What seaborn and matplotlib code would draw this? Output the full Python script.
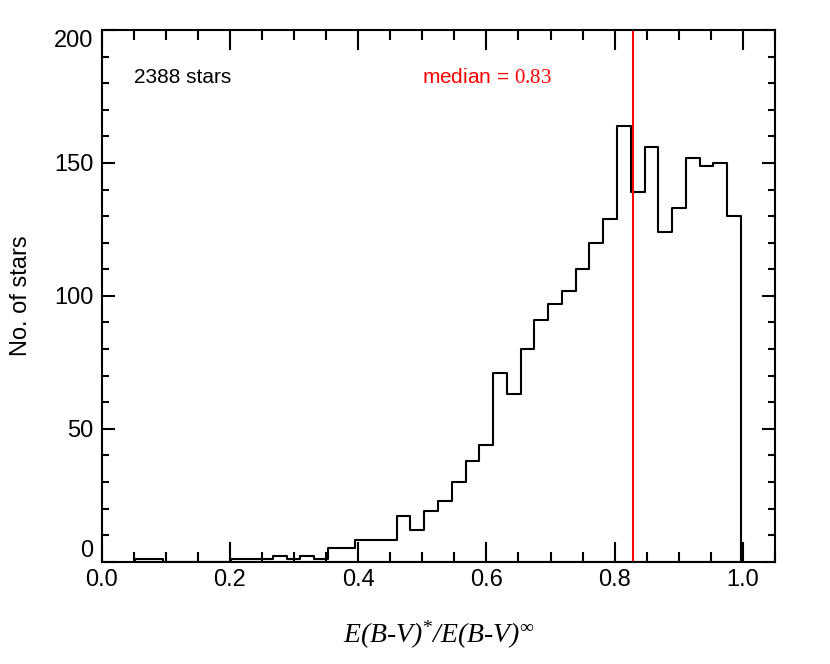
import matplotlib
matplotlib.use('Agg')
import matplotlib.pyplot as plt
import numpy as np
import pandas as pd
import seaborn as sns
from matplotlib.ticker import MultipleLocator, FormatStrFormatter

# histogram: 44 equal bins between the min and max ratio
hist_lo = 0.052
hist_hi = 0.997
counts = [1, 1, 0, 0, 0, 0, 0, 1, 1, 1,
          2, 1, 2, 1, 5, 5, 8, 8, 8, 17,
          12, 19, 23, 30, 38, 44, 71, 63, 80, 91,
          97, 102, 110, 120, 129, 164, 139, 156, 124, 133,
          152, 149, 150, 130]
n_stars = 2388
median_ratio = 0.828

edges = np.linspace(hist_lo, hist_hi, len(counts) + 1)
df = pd.DataFrame({'ratio': 0.5 * (edges[:-1] + edges[1:]), 'n': counts})

sns.set_style('ticks')
plt.rcParams['font.family'] = ['Liberation Sans', 'DejaVu Sans']
plt.rcParams['mathtext.fontset'] = 'custom'
plt.rcParams['mathtext.rm'] = 'Liberation Serif'
plt.rcParams['mathtext.it'] = 'Liberation Serif:italic'
for k in ['text.color', 'axes.labelcolor', 'xtick.color', 'ytick.color', 'axes.edgecolor']:
    plt.rcParams[k] = 'black'

fig = plt.figure(figsize=(8.3, 6.64), dpi=100)
ax = fig.add_axes([0.1225, 0.1541, 0.8112, 0.8007])

# filled step outline so the end edges drop down to zero, then drop the fill
sns.histplot(data=df, x='ratio', weights='n', bins=list(edges), element='step', fill=True,
             color='black', ax=ax)
for coll in ax.collections:
    coll.set_facecolor('none')
    coll.set_edgecolor('black')
    coll.set_linewidth(1.5)
    coll.set_alpha(1)
ax.axvline(median_ratio, color='red', linewidth=1.5)

ax.set_xlim(0, 1.05)
ax.set_ylim(0, 200)
ax.xaxis.set_major_locator(MultipleLocator(0.2))
ax.xaxis.set_minor_locator(MultipleLocator(0.05))
ax.yaxis.set_major_locator(MultipleLocator(50))
ax.yaxis.set_minor_locator(MultipleLocator(10))
ax.xaxis.set_major_formatter(FormatStrFormatter('%.1f'))

ax.tick_params(axis='both', which='both', direction='in', top=True, right=True,
               width=1.5, colors='black', labelsize=17)
ax.tick_params(axis='x', which='major', length=14.5, pad=5)
ax.tick_params(axis='x', which='minor', length=7.2)
ax.tick_params(axis='y', which='major', length=9.2, pad=6)
ax.tick_params(axis='y', which='minor', length=4.8)
for s in ax.spines.values():
    s.set_linewidth(1.5)
    s.set_color('black')

# IDL-like placement of the end labels on the y axis
fig.canvas.draw()
for t in ax.yaxis.get_major_ticks():
    if abs(t.get_loc() - 0) < 1e-6:
        t.label1.set_va('bottom')
    elif abs(t.get_loc() - 200) < 1e-6:
        t.label1.set_va('top')

ax.set_ylabel('No. of stars', fontsize=17, labelpad=16)
ax.set_xlabel(r'E(B-V)$^{*}$/E(B-V)$^{\infty}$', fontsize=20, family='Liberation Serif',
              style='italic', labelpad=20)

ax.text(0.05, 182, f'{n_stars} stars', fontsize=15, va='center', ha='left')
ax.text(0.5, 182, r'median = $%.2f$' % median_ratio, fontsize=15, va='center',
        ha='left', color='red')

fig.savefig('out.png', dpi=100)
